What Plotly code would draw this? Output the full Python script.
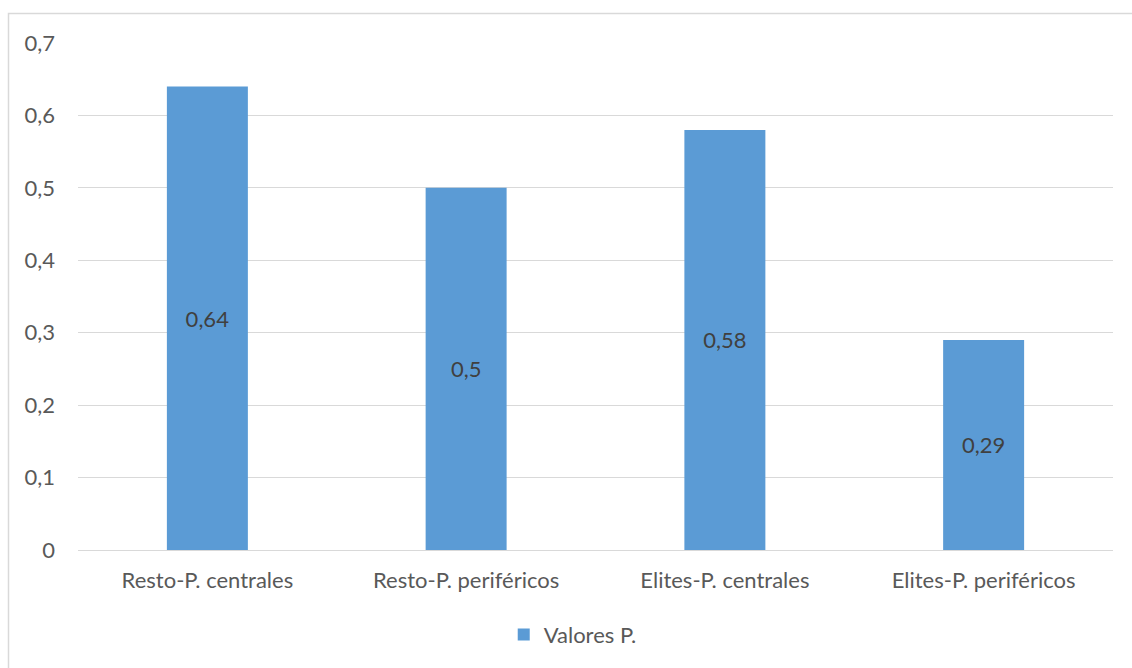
import plotly.graph_objects as go

categories = ["Resto-P. centrales", "Resto-P. periféricos", "Elites-P. centrales", "Elites-P. periféricos"]
values = [0.64, 0.5, 0.58, 0.29]
series_name = "Valores P."
tick_vals = [0, 0.1, 0.2, 0.3, 0.4, 0.5, 0.6, 0.7]
tick_text = ["0", "0,1", "0,2", "0,3", "0,4", "0,5", "0,6", "0,7"]

labels = [str(v).replace(".", ",") for v in values]

W, H = 1132, 668
L, R, T, B = 78, 19, 43, 116
pw, ph = W - L - R, H - T - B
FONT = "Lato"
FS = 22

def px_x(x):
    return (x - L) / pw

def px_y(y):
    return (H - B - y) / ph

fig = go.Figure()
fig.add_trace(go.Bar(
    x=categories, y=values, name=series_name,
    marker=dict(color="#5B9BD5", line=dict(width=0)),
    text=labels, textposition="inside", insidetextanchor="middle",
    textfont=dict(color="#404040", size=FS, family=FONT),
    showlegend=True,
))

fig.update_layout(
    width=W, height=H,
    margin=dict(l=L, r=R, t=T, b=B),
    paper_bgcolor="white", plot_bgcolor="white",
    font=dict(family=FONT, color="#595959", size=FS),
    bargap=0.687,
    showlegend=True,
    legend=dict(orientation="h", x=0.478, xanchor="center", y=px_y(637), yanchor="middle",
                font=dict(size=FS, color="#595959"), itemwidth=30),
    xaxis=dict(showgrid=False, showline=True, linecolor="#D9D9D9", linewidth=1,
               ticks="", ticklabelstandoff=11, tickfont=dict(size=FS)),
    yaxis=dict(range=[0, 0.7], tickvals=tick_vals, ticktext=tick_text,
               showgrid=True, gridcolor="#D9D9D9", gridwidth=1,
               zeroline=False, showline=False, ticks="", ticklabelstandoff=22,
               tickfont=dict(size=FS)),
    shapes=[dict(type="rect", xref="paper", yref="paper",
                 x0=px_x(8.5), x1=px_x(1145), y0=px_y(690), y1=px_y(13.5),
                 line=dict(color="#D9D9D9", width=1.5), fillcolor="rgba(0,0,0,0)", layer="below")],
)

fig.write_html("out.html")
